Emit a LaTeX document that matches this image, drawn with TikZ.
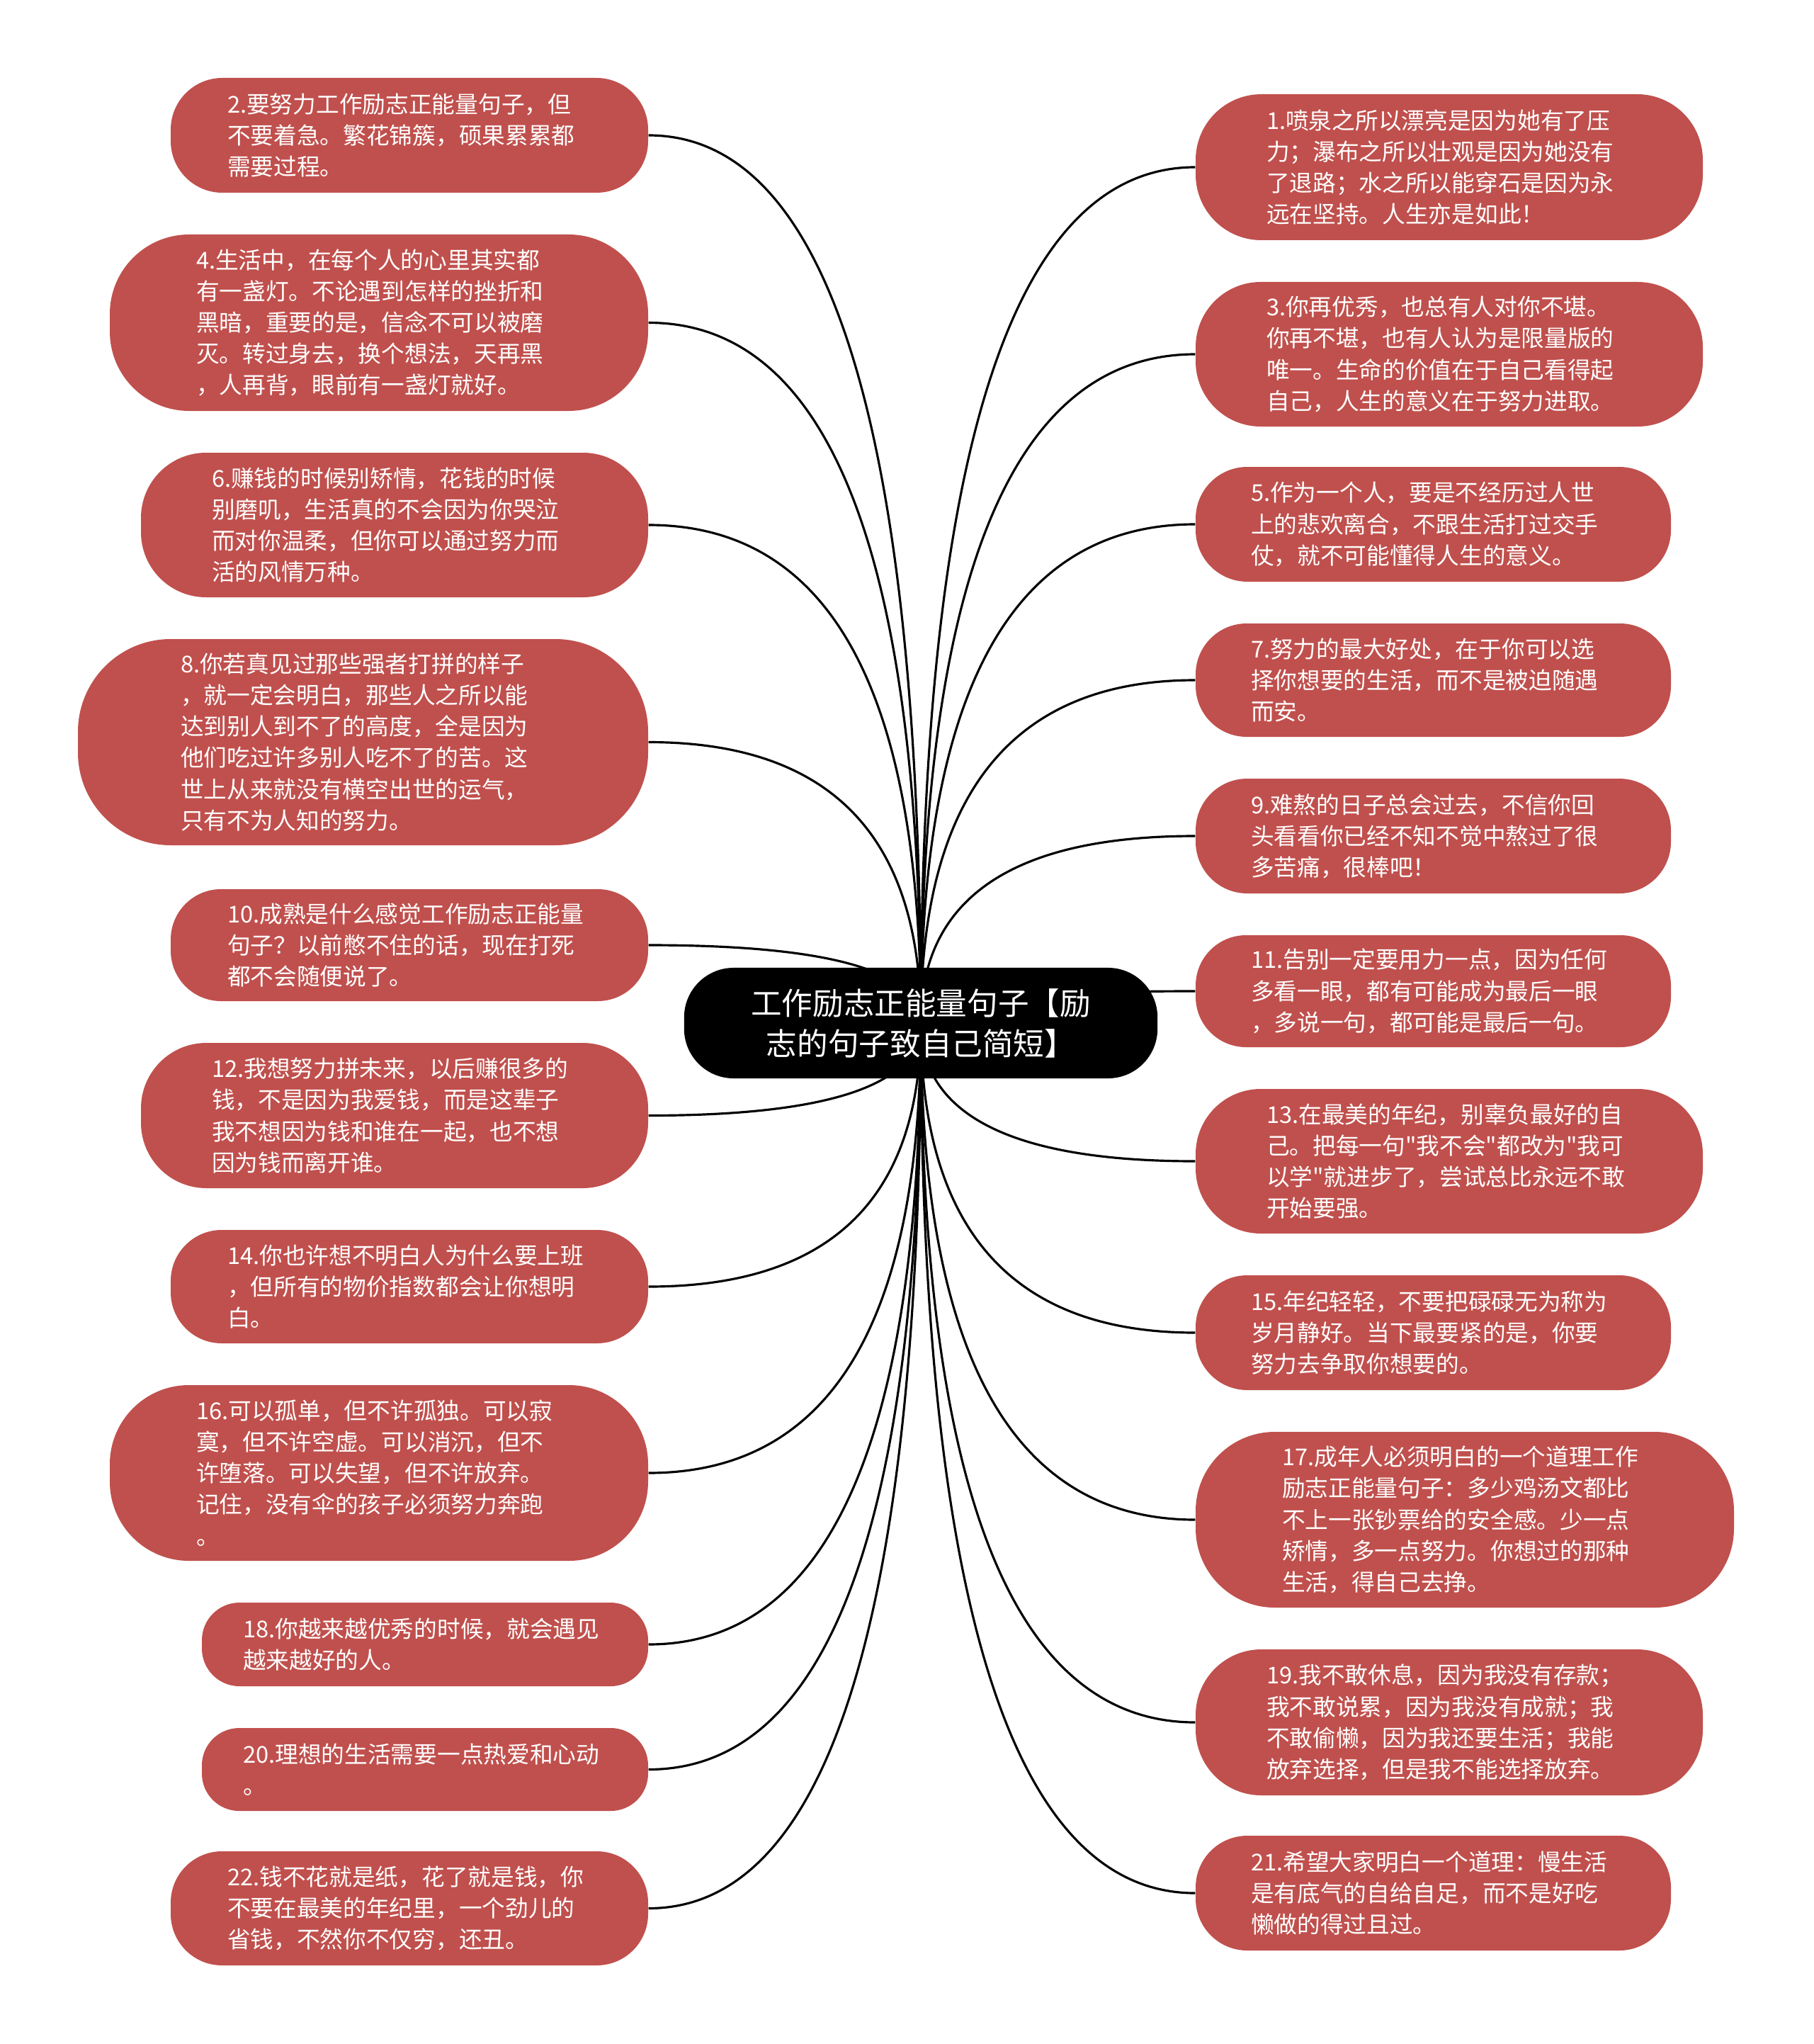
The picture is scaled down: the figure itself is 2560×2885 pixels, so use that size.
\documentclass[tikz,border=0pt]{standalone}
\usepackage{fontspec}
\newfontfamily\cjk{Noto Sans CJK SC}
\usetikzlibrary{calc}
\definecolor{leafred}{HTML}{C0504D}
\pgfdeclarelayer{bg}
\pgfsetlayers{bg,main}
\newcommand\sq{\XeTeXglyph\XeTeXcharglyph"22\relax}
% name, x1, y1, x2, y2, text-left, text
\newcommand\leafnode[7]{\node[leaf, minimum width={(#4-#2)*0.01cm}, minimum height={(#5-#3)*0.01cm}, rounded corners={(#5-#3)*0.0045cm}, text width={(#2+#4-2*#6)*0.01cm}] (#1) at ({(#2+#4)/2},{(#3+#5)/2}) {#7};}
\newcommand\linkto[2]{\draw[link] (c.center) .. controls ($(c.center)!0.6667!(c.center |- #1.#2)$) and ($(#1.#2)!0.6667!(c.center |- #1.#2)$) .. (#1.#2);}
\tikzset{
 leaf/.style={fill=leafred, text=white, inner sep=0pt, align=left, font=\cjk\fontsize{9.3}{12.55}\selectfont},
 hub/.style={fill=black, text=white, inner sep=0pt, align=center, font=\cjk\fontsize{12.4}{16.2}\selectfont, minimum width=6.68cm, minimum height=1.56cm, rounded corners=0.7cm},
 link/.style={draw=black, line width=0.9pt}
}
\begin{document}
\begin{tikzpicture}[x=0.01cm,y=-0.01cm]
\useasboundingbox (0,0) rectangle (2560,2885);
\begin{pgfonlayer}{bg}
\fill[white] (0,0) rectangle (2560,2885);
\end{pgfonlayer}
\node[hub] (c) at (1300,1444) {工作励志正能量句子【励\\志的句子致自己简短】};
% left column
\leafnode{n2}{241}{110}{915}{272}{321}{2.要努力工作励志正能量句子，但\\不要着急。繁花锦簇，硕果累累都\\需要过程。}
\leafnode{n4}{155}{331}{915}{580}{277}{4.生活中，在每个人的心里其实都\\有一盏灯。不论遇到怎样的挫折和\\黑暗，重要的是，信念不可以被磨\\灭。转过身去，换个想法，天再黑\\，人再背，眼前有一盏灯就好。}
\leafnode{n6}{199}{639}{915}{843}{299}{6.赚钱的时候别矫情，花钱的时候\\别磨叽，生活真的不会因为你哭泣\\而对你温柔，但你可以通过努力而\\活的风情万种。}
\leafnode{n8}{110}{902}{915}{1193}{255}{8.你若真见过那些强者打拼的样子\\，就一定会明白，那些人之所以能\\达到别人到不了的高度，全是因为\\他们吃过许多别人吃不了的苦。这\\世上从来就没有横空出世的运气，\\只有不为人知的努力。}
\leafnode{n10}{241}{1255}{915}{1413}{321}{10.成熟是什么感觉工作励志正能量\\句子？以前憋不住的话，现在打死\\都不会随便说了。}
\leafnode{n12}{199}{1472}{915}{1677}{299}{12.我想努力拼未来，以后赚很多的\\钱，不是因为我爱钱，而是这辈子\\我不想因为钱和谁在一起，也不想\\因为钱而离开谁。}
\leafnode{n14}{241}{1736}{915}{1896}{321}{14.你也许想不明白人为什么要上班\\，但所有的物价指数都会让你想明\\白。}
\leafnode{n16}{155}{1955}{915}{2203}{277}{16.可以孤单，但不许孤独。可以寂\\寞，但不许空虚。可以消沉，但不\\许堕落。可以失望，但不许放弃。\\记住，没有伞的孩子必须努力奔跑\\。}
\leafnode{n18}{285}{2262}{915}{2380}{343}{18.你越来越优秀的时候，就会遇见\\越来越好的人。}
\leafnode{n20}{285}{2439}{915}{2556}{343}{20.理想的生活需要一点热爱和心动\\。}
\leafnode{n22}{241}{2613}{915}{2774}{321}{22.钱不花就是纸，花了就是钱，你\\不要在最美的年纪里，一个劲儿的\\省钱，不然你不仅穷，还丑。}
% right column
\leafnode{n1}{1688}{133}{2404}{339}{1788}{1.喷泉之所以漂亮是因为她有了压\\力；瀑布之所以壮观是因为她没有\\了退路；水之所以能穿石是因为永\\远在坚持。人生亦是如此！}
\leafnode{n3}{1688}{398}{2404}{602}{1788}{3.你再优秀，也总有人对你不堪。\\你再不堪，也有人认为是限量版的\\唯一。生命的价值在于自己看得起\\自己，人生的意义在于努力进取。}
\leafnode{n5}{1688}{659}{2359}{821}{1766}{5.作为一个人，要是不经历过人世\\上的悲欢离合，不跟生活打过交手\\仗，就不可能懂得人生的意义。}
\leafnode{n7}{1688}{880}{2359}{1040}{1766}{7.努力的最大好处，在于你可以选\\择你想要的生活，而不是被迫随遇\\而安。}
\leafnode{n9}{1688}{1099}{2359}{1261}{1766}{9.难熬的日子总会过去，不信你回\\头看看你已经不知不觉中熬过了很\\多苦痛，很棒吧！}
\leafnode{n11}{1688}{1320}{2359}{1478}{1766}{11.告别一定要用力一点，因为任何\\多看一眼，都有可能成为最后一眼\\，多说一句，都可能是最后一句。}
\leafnode{n13}{1688}{1537}{2404}{1741}{1788}{13.在最美的年纪，别辜负最好的自\\己。把每一句\sq 我不会\sq 都改为\sq 我可\\以学\sq 就进步了，尝试总比永远不敢\\开始要强。}
\leafnode{n15}{1688}{1800}{2359}{1962}{1766}{15.年纪轻轻，不要把碌碌无为称为\\岁月静好。当下最要紧的是，你要\\努力去争取你想要的。}
\leafnode{n17}{1688}{2021}{2448}{2269}{1810}{17.成年人必须明白的一个道理工作\\励志正能量句子：多少鸡汤文都比\\不上一张钞票给的安全感。少一点\\矫情，多一点努力。你想过的那种\\生活，得自己去挣。}
\leafnode{n19}{1688}{2328}{2404}{2534}{1788}{19.我不敢休息，因为我没有存款；\\我不敢说累，因为我没有成就；我\\不敢偷懒，因为我还要生活；我能\\放弃选择，但是我不能选择放弃。}
\leafnode{n21}{1688}{2591}{2359}{2753}{1766}{21.希望大家明白一个道理：慢生活\\是有底气的自给自足，而不是好吃\\懒做的得过且过。}
\begin{pgfonlayer}{bg}
\linkto{n2}{east}\linkto{n4}{east}\linkto{n6}{east}\linkto{n8}{east}
\linkto{n10}{east}\linkto{n12}{east}\linkto{n14}{east}\linkto{n16}{east}
\linkto{n18}{east}\linkto{n20}{east}\linkto{n22}{east}
\linkto{n1}{west}\linkto{n3}{west}\linkto{n5}{west}\linkto{n7}{west}
\linkto{n9}{west}\linkto{n11}{west}\linkto{n13}{west}\linkto{n15}{west}
\linkto{n17}{west}\linkto{n19}{west}\linkto{n21}{west}
\end{pgfonlayer}
\end{tikzpicture}
\end{document}
